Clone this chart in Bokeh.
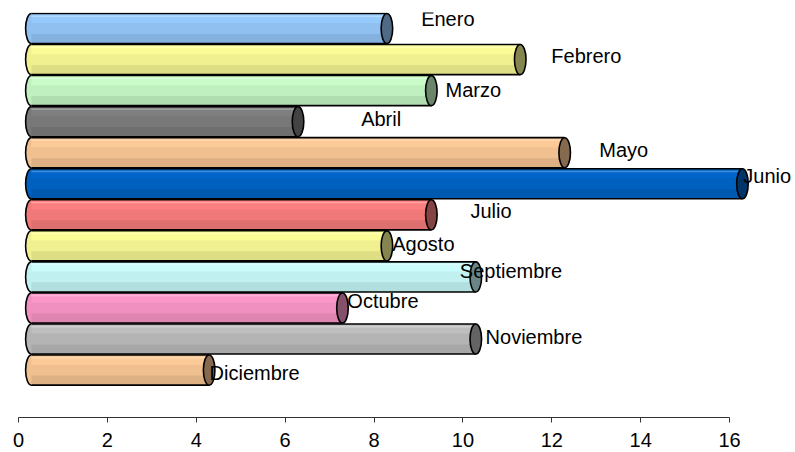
from bokeh.plotting import figure
from bokeh.models import ColumnDataSource, Range1d, LinearAxis, FixedTicker
from bokeh.transform import dodge
from bokeh.core.properties import value as pv
from bokeh.embed import file_html
from bokeh.resources import INLINE

# ---- data ----
months = ["Enero", "Febrero", "Marzo", "Abril", "Mayo", "Junio",
          "Julio", "Agosto", "Septiembre", "Octubre", "Noviembre", "Diciembre"]
values = [8, 11, 9, 6, 12, 16, 9, 8, 10, 7, 10, 4]
x_ticks = [0, 2, 4, 6, 8, 10, 12, 14, 16]

# ---- style / layout ----
base_colors = ["#99CCFF", "#FFFF99", "#CCFFCC", "#808080", "#FFCC99", "#0066CC",
               "#FF8080", "#FFFF99", "#CCFFFF", "#FF99CC", "#C0C0C0", "#FFCC99"]
label_dx = [1.06, 0.99, 0.61, 1.71, 1.07, 0.31, 1.17, 0.41, -0.07, 0.40, 0.51, 0.30]
label_dy = [-0.30, -0.10, -0.03, -0.10, -0.10, -0.26, -0.11, -0.07, -0.19, -0.21, -0.06, 0.09]

DEPTH = 0.29
BAR_H = 0.97
CAP_W = 0.26
FONT = "Liberation Sans"


def _rgb(h):
    h = h.lstrip("#")
    return [int(h[i:i + 2], 16) for i in (0, 2, 4)]


def shade(h, f):
    return "#%02x%02x%02x" % tuple(max(0, min(255, int(round(c * f)))) for c in _rgb(h))


def tint(h, f):
    return "#%02x%02x%02x" % tuple(int(round(c + (255 - c) * f)) for c in _rgb(h))


n = len(months)
src = ColumnDataSource(dict(
    y=list(range(n)),
    value=values,
    start=[0] * n,
    name=months,
    top=[shade(c, 0.99) for c in base_colors],
    mid=[shade(c, 0.94) for c in base_colors],
    bot=[shade(c, 0.87) for c in base_colors],
    hi=[tint(c, 0.25) for c in base_colors],
    cap=[shade(c, 0.52) for c in base_colors],
    lx=[v + d for v, d in zip(values, label_dx)],
    ly=[i + d for i, d in zip(range(n), label_dy)],
))

# frame spans page x 0..795 (value 0 at x=18), page y 12..452
p = figure(width=795, height=452,
           x_range=Range1d(-0.405, 17.484), y_range=Range1d(13.655, -0.5153),
           output_backend="svg", toolbar_location=None,
           x_axis_location=None, y_axis_location=None,
           min_border_left=0, min_border_right=0, min_border_top=12, min_border_bottom=0)
p.outline_line_color = None
p.grid.visible = False

x0 = dodge("start", DEPTH, range=p.x_range)
x1 = dodge("value", DEPTH, range=p.x_range)

# rounded left end
p.ellipse(x=x0, y="y", width=CAP_W, height=BAR_H, source=src,
          fill_color="mid", line_color="black", line_width=1.6)

# body bands
p.hbar(y="y", left=x0, right=x1, height=BAR_H, source=src,
       fill_color="mid", line_color=None)
p.hbar(y=dodge("y", -BAR_H / 2 + 0.16 * BAR_H, range=p.y_range), left=x0, right=x1,
       height=0.32 * BAR_H, source=src, fill_color="top", line_color=None)
p.hbar(y=dodge("y", BAR_H / 2 - 0.16 * BAR_H, range=p.y_range), left=x0, right=x1,
       height=0.32 * BAR_H, source=src, fill_color="bot", line_color=None)
p.hbar(y=dodge("y", -BAR_H / 2 + 0.09 * BAR_H, range=p.y_range), left=x0, right=x1,
       height=0.05 * BAR_H, source=src, fill_color="hi", line_color=None)

# top / bottom outlines
p.segment(x0=x0, y0=dodge("y", -BAR_H / 2, range=p.y_range),
          x1=x1, y1=dodge("y", -BAR_H / 2, range=p.y_range),
          source=src, line_color="black", line_width=1.6)
p.segment(x0=x0, y0=dodge("y", BAR_H / 2, range=p.y_range),
          x1=x1, y1=dodge("y", BAR_H / 2, range=p.y_range),
          source=src, line_color="black", line_width=1.6)

# end cap
p.ellipse(x=x1, y="y", width=CAP_W, height=BAR_H, source=src,
          fill_color="cap", line_color="black", line_width=1.6)

# data labels
p.text(x="lx", y="ly", text="name", source=src,
       text_font=pv(FONT), text_font_size="20px",
       text_baseline="middle", text_align="left", text_color="black")

ax = LinearAxis(ticker=FixedTicker(ticks=x_ticks), fixed_location=12.519, bounds=(0, 16),
                major_tick_out=5, major_tick_in=0, minor_tick_out=0, minor_tick_in=0,
                axis_line_color="#333333", major_tick_line_color="#333333",
                major_label_text_font=FONT, major_label_text_font_size="20px",
                major_label_text_color="black", major_label_standoff=11)
p.add_layout(ax, "below")

open("out.html", "w").write(file_html(p, INLINE))
